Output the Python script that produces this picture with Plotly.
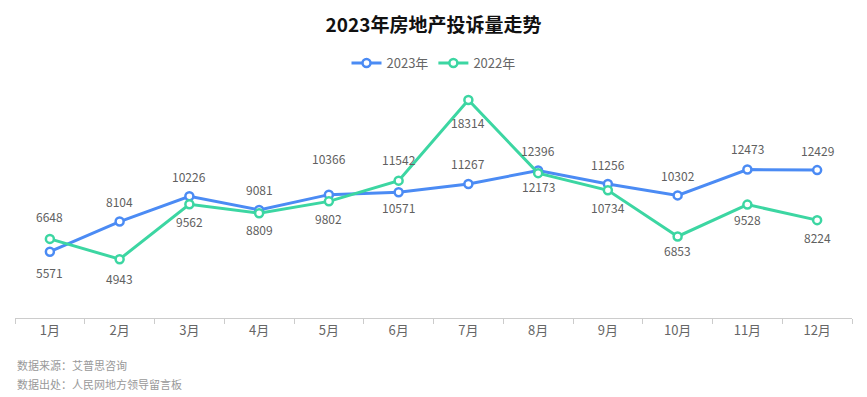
import plotly.graph_objects as go

months = ["1月", "2月", "3月", "4月", "5月", "6月", "7月", "8月", "9月", "10月", "11月", "12月"]
values_2023 = [5571, 8104, 10226, 9081, 10366, 10571, 11267, 12396, 11256, 10302, 12473, 12429]
values_2022 = [6648, 4943, 9562, 8809, 9802, 11542, 18314, 12173, 10734, 6853, 9528, 8224]

# label vertical offsets in px (negative = above point)
label_dy_2023 = [21, -20, -20, -20, -36, 15, -20, -20, -20, -20, -21, -20]
label_dy_2022 = [-22, 19, 17, 16, 17, -21, 22, 13, 17, 14, 15, 17]

BLUE = "#4b8bf4"
GREEN = "#3cd6a2"
FONT = "Noto Sans CJK SC, Noto Sans, sans-serif"

W, H = 867, 397
ML, MR, MT, MB = 15, 15, 80, 79
PH = H - MT - MB

fig = go.Figure()
for name, vals, color in [("2023年", values_2023, BLUE), ("2022年", values_2022, GREEN)]:
    fig.add_trace(go.Scatter(
        x=months, y=vals, name=name, mode="lines+markers",
        line=dict(color=color, width=3),
        marker=dict(size=8, color="white", line=dict(color=color, width=2.5)),
        hoverinfo="x+y+name",
    ))

annotations = []
for vals, dys in [(values_2023, label_dy_2023), (values_2022, label_dy_2022)]:
    for m, v, dy in zip(months, vals, dys):
        annotations.append(dict(
            x=m, y=v, xref="x", yref="y", text=str(v), showarrow=False,
            yshift=-dy, font=dict(size=12, color="#606060", family=FONT),
            xanchor="center", yanchor="middle",
        ))

sources = ["数据来源：艾普思咨询", "数据出处：人民网地方领导留言板"]
for i, s in enumerate(sources):
    ypix = 365 + i * 19
    annotations.append(dict(
        x=0, y=(H - MB - ypix) / PH, xref="paper", yref="paper", text=s,
        showarrow=False, xanchor="left", yanchor="middle",
        font=dict(size=11, color="#999999", family=FONT),
    ))

fig.update_layout(
    width=W, height=H,
    margin=dict(l=ML, r=MR, t=MT, b=MB),
    paper_bgcolor="white", plot_bgcolor="white",
    font=dict(family=FONT, color="#666666"),
    title=dict(
        text="<b>2023年房地产投诉量走势</b>", x=0.5, xanchor="center",
        y=1 - 25 / H, yanchor="middle", yref="container",
        font=dict(size=19, color="#111111", family=FONT),
    ),
    legend=dict(
        orientation="h", x=0.5, xanchor="center", y=1 + (MT - 63) / PH,
        yanchor="middle", font=dict(size=13, color="#666666", family=FONT),
        itemwidth=30, traceorder="normal",
    ),
    showlegend=True,
    annotations=annotations,
    xaxis=dict(
        type="category", range=[-0.5, 11.5], showgrid=False,
        showline=True, linecolor="#cccccc", linewidth=1,
        ticks="outside", tickson="boundaries", ticklen=5, tickcolor="#cccccc",
        tickfont=dict(size=13, color="#666666", family=FONT),
        zeroline=False,
    ),
    yaxis=dict(range=[0, 20000], visible=False, showgrid=False, zeroline=False),
)

fig.write_html(
    "out.html",
    config={"displayModeBar": False},
    post_script="document.body.style.margin='0';document.body.style.overflow='hidden';",
)
